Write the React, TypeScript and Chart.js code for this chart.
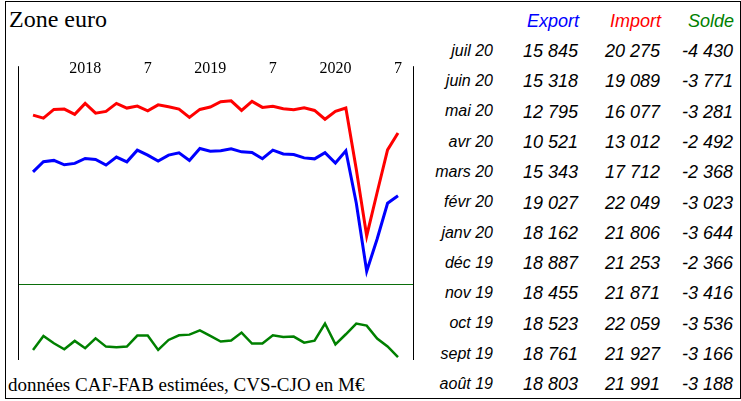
import React, { useEffect, useRef } from "react";
import { Chart, registerables } from "chart.js";

Chart.register(...registerables);

// Monthly series, Aug 2017 .. Jul 2020 (M€)
const exportValues = [
  17540, 18250, 18345, 18035, 18135, 18485, 18415, 18015, 18580, 18245, 19070, 18720,
  18295, 18720, 18880, 18345, 19190, 19000, 19025, 19165, 18950, 18910, 18460, 19070,
  18803, 18761, 18523, 18455, 18887, 18162, 19027, 15343, 10521, 12795, 15318, 15845,
];
const importValues = [
  21545, 21330, 21945, 21970, 21595, 22370, 21685, 21805, 22370, 22040, 22180, 21850,
  22270, 22130, 21970, 21380, 21945, 22110, 22485, 22555, 21875, 22510, 22090, 22160,
  21991, 21927, 22059, 21871, 21253, 21806, 22049, 17712, 13012, 16077, 19089, 20275,
];
const soldeValues = [
  -3985, -3125, -3575, -3940, -3430, -3880, -3270, -3780, -3820, -3780, -3105, -3105,
  -3985, -3370, -3085, -3045, -2780, -3125, -3470, -3410, -2920, -3595, -3595, -3085,
  -3188, -3166, -3536, -3416, -2366, -3644, -3023, -2368, -2492, -3281, -3771, -4430,
];

// Table (most recent first)
const tableMonths = [
  "juil 20", "juin 20", "mai 20", "avr 20", "mars 20", "févr 20",
  "janv 20", "déc 19", "nov 19", "oct 19", "sept 19", "août 19",
];
const tableHeaders = ["Export", "Import", "Solde"];
const headerColors = ["#0000FF", "#FF0000", "#008000"];

// Top axis ticks
const tickIndices = [5, 11, 17, 23, 29, 35];
const tickLabels = ["2018", "7", "2019", "7", "2020", "7"];

const SERIF = "'Liberation Serif', 'Times New Roman', serif";
const SANS = "'Liberation Sans', Arial, sans-serif";

function fmt(v: number): string {
  const neg = v < 0;
  const s = String(Math.abs(v));
  let out = "";
  for (let i = 0; i < s.length; i++) {
    if (i > 0 && (s.length - i) % 3 === 0) out += "\u00a0";
    out += s[i];
  }
  return (neg ? "-" : "") + out;
}

type TxtProps = {
  x: number;
  baseline: number;
  size: number;
  serif?: boolean;
  italic?: boolean;
  color?: string;
  align?: "left" | "right";
  children: React.ReactNode;
};

function Txt({ x, baseline, size, serif, italic, color, align, children }: TxtProps) {
  const k = serif ? 0.8375 : 0.8465;
  const style: React.CSSProperties = {
    position: "absolute",
    top: baseline - k * size,
    fontFamily: serif ? SERIF : SANS,
    fontSize: size,
    lineHeight: `${size}px`,
    fontStyle: italic ? "italic" : "normal",
    color: color || "#000",
    whiteSpace: "nowrap",
  };
  if (align === "right") style.right = 741 - x;
  else style.left = x;
  return <div style={style}>{children}</div>;
}

const frameLines = {
  id: "frameLines",
  afterDraw(chart: any) {
    const { ctx, chartArea } = chart;
    const { left, right, top, bottom } = chartArea;
    ctx.save();
    ctx.strokeStyle = "#000";
    ctx.lineWidth = 1;
    [left, right].forEach((x: number) => {
      const px = Math.round(x) + 0.5;
      ctx.beginPath();
      ctx.moveTo(px, top - 12);
      ctx.lineTo(px, bottom);
      ctx.stroke();
    });
    ctx.restore();
  },
};

function TradeChart() {
  const ref = useRef<HTMLCanvasElement | null>(null);
  useEffect(() => {
    if (!ref.current) return;
    const toPts = (arr: number[]) => arr.map((v, i) => ({ x: i, y: v }));
    const chart = new Chart(ref.current, {
      type: "line",
      data: {
        datasets: [
          {
            label: "Import",
            data: toPts(importValues),
            borderColor: "#FF0000",
            borderWidth: 3,
            pointRadius: 0,
            tension: 0,
            yAxisID: "y",
          },
          {
            label: "Export",
            data: toPts(exportValues),
            borderColor: "#0000FF",
            borderWidth: 3,
            pointRadius: 0,
            tension: 0,
            yAxisID: "y",
          },
          {
            label: "Solde",
            data: toPts(soldeValues),
            borderColor: "#008000",
            borderWidth: 2.5,
            pointRadius: 0,
            tension: 0,
            yAxisID: "y2",
          },
        ],
      },
      options: {
        animation: false,
        responsive: true,
        maintainAspectRatio: false,
        layout: { padding: { left: 18, right: 17, top: 19, bottom: 10 } },
        plugins: { legend: { display: false }, tooltip: { enabled: false } },
        scales: {
          x: {
            type: "linear",
            position: "top",
            min: -1.44,
            max: 36.44,
            grid: { display: false, drawTicks: false },
            border: { display: false },
            afterBuildTicks: (scale: any) => {
              scale.ticks = tickIndices.map((v) => ({ value: v }));
            },
            ticks: {
              autoSkip: false,
              maxRotation: 0,
              padding: 0,
              color: "#000",
              font: { family: SERIF, size: 16 },
              callback: (v: any) => {
                const i = tickIndices.indexOf(Number(v));
                return i >= 0 ? tickLabels[i] : "";
              },
            },
          },
          y: {
            display: false,
            min: 4250,
            max: 24150,
          },
          y2: {
            position: "right",
            min: -4600,
            max: 12670,
            border: { display: false },
            afterBuildTicks: (scale: any) => {
              scale.ticks = [{ value: 0 }];
            },
            grid: {
              drawTicks: false,
              lineWidth: 1,
              color: (ctx: any) => (ctx.tick && ctx.tick.value === 0 ? "#0B6E0B" : "rgba(0,0,0,0)"),
            },
            ticks: { display: false },
          },
        },
      },
      plugins: [frameLines],
    });
    return () => chart.destroy();
  }, []);
  return (
    <div style={{ position: "absolute", left: 0, top: 40, width: 430, height: 330 }}>
      <canvas ref={ref} />
    </div>
  );
}

export default function App() {
  const n = exportValues.length;
  const colRight = [578, 660, 733];
  return (
    <div
      style={{
        position: "absolute",
        left: 0,
        top: 0,
        width: 741,
        height: 401,
        background: "#fff",
        overflow: "hidden",
      }}
    >
      <div
        style={{
          position: "absolute",
          left: 5,
          top: 1,
          width: 736,
          height: 398,
          border: "1px solid #000",
          boxSizing: "border-box",
        }}
      />
      <TradeChart />
      <Txt x={9} baseline={26.7} size={24} serif>
        Zone euro
      </Txt>
      <Txt x={8} baseline={391} size={19} serif>
        données CAF-FAB estimées, CVS-CJO en M€
      </Txt>
      {tableHeaders.map((h, j) => (
        <Txt key={h} x={colRight[j] + 1} baseline={27.3} size={18} italic color={headerColors[j]} align="right">
          {h}
        </Txt>
      ))}
      {tableMonths.map((m, i) => {
        const idx = n - 1 - i;
        const base = 57.3 + 30.3 * i;
        const vals = [exportValues[idx], importValues[idx], soldeValues[idx]];
        return (
          <React.Fragment key={m}>
            <Txt x={493} baseline={base - 1} size={16} italic align="right">
              {m}
            </Txt>
            {vals.map((v, j) => (
              <Txt key={j} x={colRight[j]} baseline={base} size={18} italic align="right">
                {fmt(v)}
              </Txt>
            ))}
          </React.Fragment>
        );
      })}
    </div>
  );
}
